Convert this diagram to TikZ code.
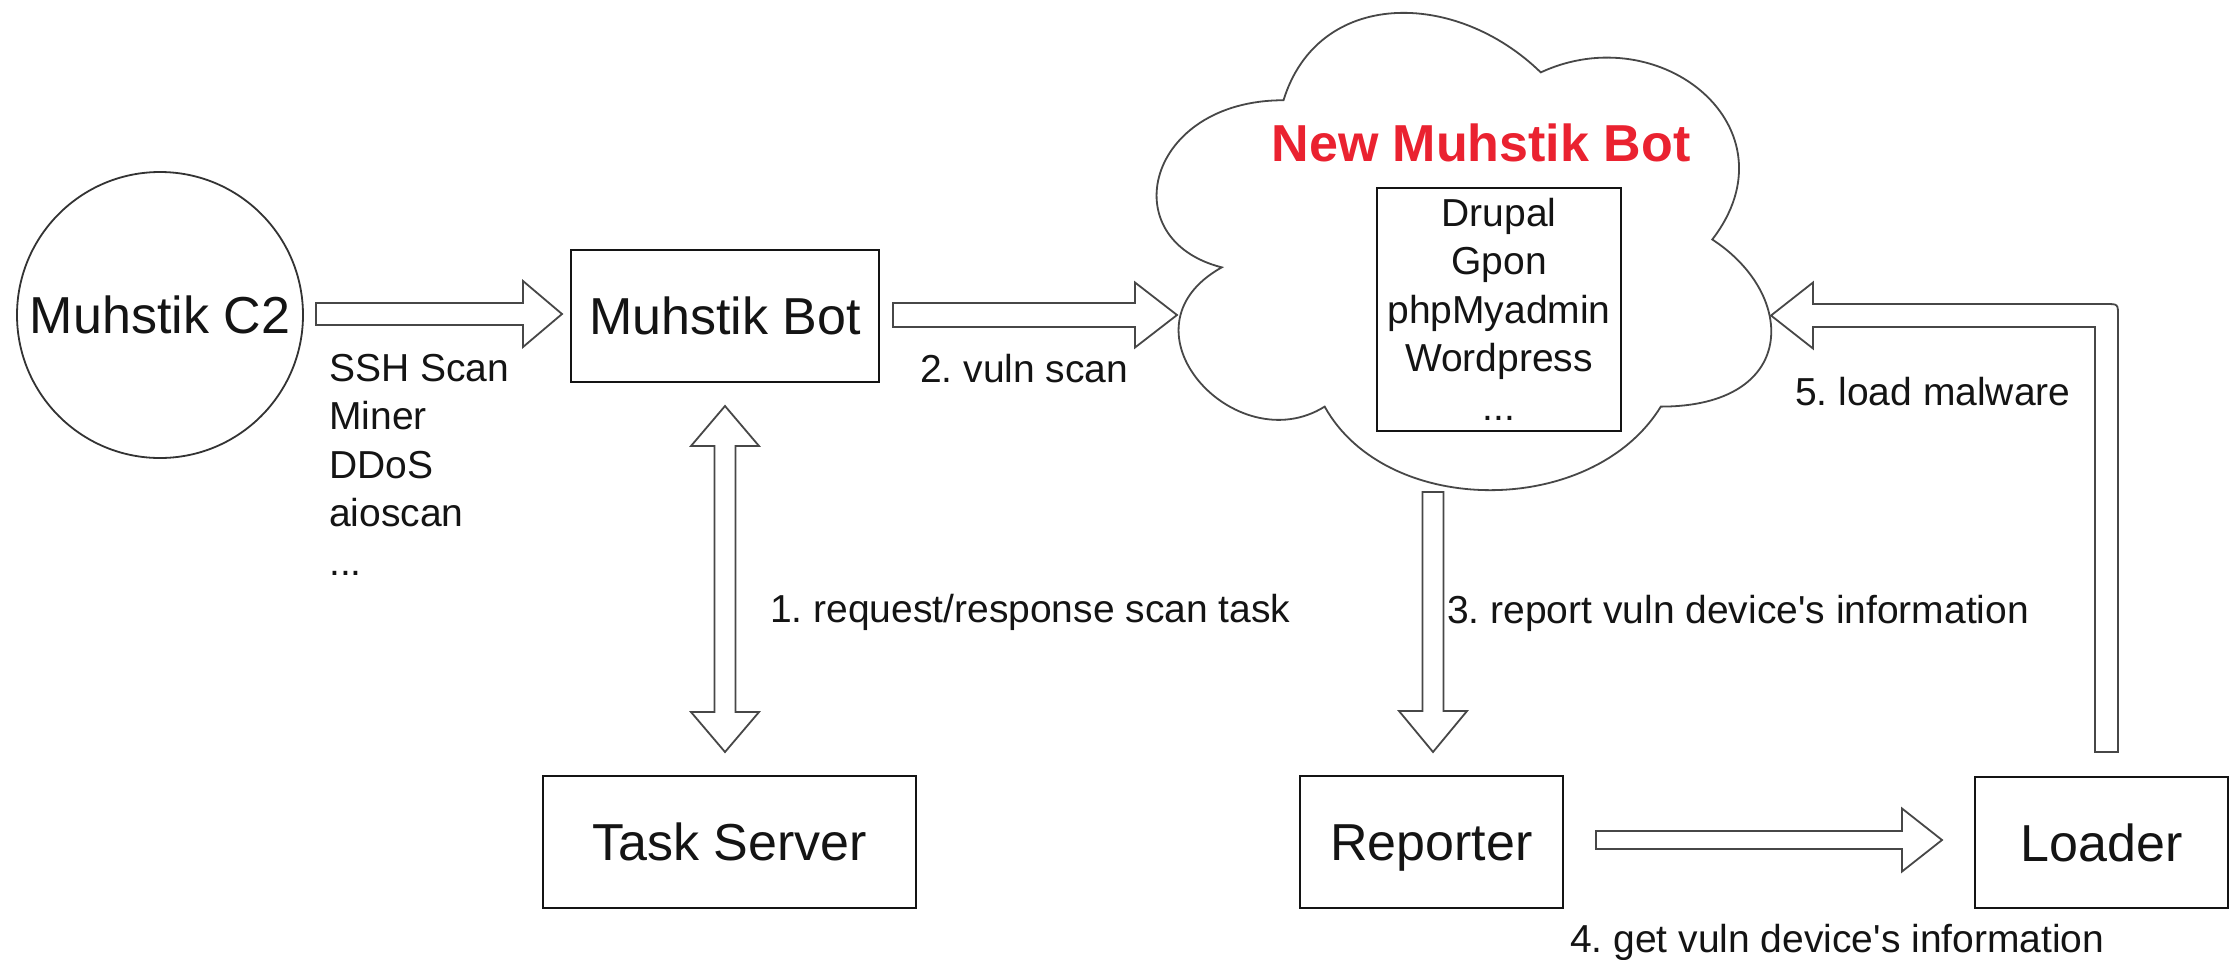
\documentclass[tikz,border=0pt]{standalone}
\usepackage{fontspec}
\setmainfont{Liberation Sans}
\usetikzlibrary{calc}
\frenchspacing
\definecolor{botred}{RGB}{234,34,48}
\definecolor{ink}{RGB}{20,20,20}
% straight hollow block arrow: start, tip, half shaft, half head, head length
\newcommand{\flexarrow}[5]{%
  \coordinate (fxb) at ($(#2)!#5!(#1)$);
  \draw[flexline] ($(#1)!#3!90:(#2)$) -- ($(fxb)!#3!90:(#2)$) -- ($(fxb)!#4!90:(#2)$) -- (#2)
    -- ($(fxb)!#4!-90:(#2)$) -- ($(fxb)!#3!-90:(#2)$) -- ($(#1)!#3!-90:(#2)$) -- cycle;}
% double headed hollow block arrow
\newcommand{\dflexarrow}[5]{%
  \coordinate (fxa) at ($(#1)!#5!(#2)$);
  \coordinate (fxb) at ($(#2)!#5!(#1)$);
  \draw[flexline] (#1) -- ($(fxa)!#4!90:(#2)$) -- ($(fxa)!#3!90:(#2)$) -- ($(fxb)!#3!90:(#2)$)
    -- ($(fxb)!#4!90:(#2)$) -- (#2) -- ($(fxb)!#4!-90:(#2)$) -- ($(fxb)!#3!-90:(#2)$)
    -- ($(fxa)!#3!-90:(#2)$) -- ($(fxa)!#4!-90:(#2)$) -- cycle;}
\begin{document}
\begin{tikzpicture}[x=1pt,y=-1pt,
  bigfont/.style={font=\fontsize{52}{62}\selectfont\frenchspacing},
  lbl/.style={font=\fontsize{39}{48.5}\selectfont\frenchspacing, text=ink, inner sep=0pt},
  box/.style={draw=ink, line width=2pt, rectangle, bigfont, text=ink, inner sep=0pt,
              text height=37pt, text depth=0pt},
  circ/.style={draw=black!80, line width=1.8pt, circle, bigfont, text=ink, inner sep=0pt,
               minimum size=286pt, text height=37pt, text depth=0pt},
  flexline/.style={draw=black!72, line width=1.8pt, fill=white, line join=miter},
  cloudline/.style={draw=black!72, line width=1.8pt, fill=white},
  title/.style={font=\bfseries\fontsize{52}{62}\selectfont, text=botred, inner sep=0pt,
                text height=37.5pt, text depth=0pt},
  cmsbox/.style={draw=ink, line width=2pt, lbl, align=center, minimum width=244pt,
                 minimum height=243pt}]
\fill[white] (0,0) rectangle (2234,959);
\useasboundingbox (0,0) rectangle (2234,959);

% cloud
\begin{scope}[shift={(1112,-39)}, x=686pt, y=-557pt]
\draw[cloudline] (0.25,0.25) .. controls (0.05,0.25) and (0,0.5) .. (0.16,0.55)
  .. controls (0,0.66) and (0.18,0.9) .. (0.31,0.8)
  .. controls (0.4,1) and (0.7,1) .. (0.8,0.8)
  .. controls (1,0.8) and (1,0.6) .. (0.875,0.5)
  .. controls (1,0.3) and (0.8,0.1) .. (0.625,0.2)
  .. controls (0.5,0.05) and (0.3,0.05) .. (0.25,0.25) -- cycle;
\end{scope}
\coordinate (cloudW) at (1177,315);
\coordinate (cloudS) at (1433,492);
\coordinate (cloudE) at (1771,315.5);

\node[title] (ttl) at (1481,142.5) {New Muhstik Bot};
\node[cmsbox] (cms) at (1499,309) {Drupal\\Gpon\\phpMyadmin\\Wordpress\\...};

% nodes
\node[circ] (c2) at (160,315) {Muhstik C2};
\node[box, minimum width=308pt, minimum height=132pt] (bot) at (725,316) {Muhstik Bot};
\node[box, minimum width=373pt, minimum height=132pt] (task) at (729.5,842) {Task Server};
\node[box, minimum width=263pt, minimum height=132pt] (rep) at (1431.5,842) {Reporter};
\node[box, minimum width=253pt, minimum height=131pt] (loader) at (2101.5,842.5) {Loader};

% arrows
\coordinate (a1s) at ($(c2.east)+(12,-1)$);
\coordinate (a1t) at ($(bot.west)+(-8,-2)$);
\flexarrow{a1s}{a1t}{11pt}{33pt}{39pt}
\coordinate (a2s) at ($(bot.east)+(13,-1)$);
\flexarrow{a2s}{cloudW}{12pt}{32.5pt}{42pt}
\coordinate (d1) at ($(bot.south)+(0,23)$);
\coordinate (d2) at ($(d1 |- task.north)+(0,-23)$);
\dflexarrow{d1}{d2}{10.5pt}{34pt}{40pt}
\coordinate (a3t) at ($(cloudS |- rep.north)+(0,-23)$);
\flexarrow{cloudS}{a3t}{10.5pt}{34pt}{41pt}
\coordinate (a4s) at ($(rep.east)+(32,-2)$);
\coordinate (a4t) at ($(loader.west)+(-32,-2.5)$);
\flexarrow{a4s}{a4t}{9pt}{31.5pt}{40pt}
% elbow arrow from loader to cloud
\coordinate (s5) at ($(loader.north)+(5,-24)$);
\coordinate (c5) at ($(s5 |- cloudE)+(11.5,-11.5)$);
\draw[flexline] ($(s5)+(-11.5,0)$) -- ($(s5 |- cloudE)+(-11.5,11.5)$) -- ($(cloudE)+(42,11.5)$)
  -- ($(cloudE)+(42,33)$) -- (cloudE) -- ($(cloudE)+(42,-33)$) -- ($(cloudE)+(42,-11.5)$)
  -- ($(c5)+(-12,0)$) .. controls (c5) .. ($(c5)+(0,12)$) -- ($(s5)+(11.5,0)$) -- cycle;

% labels
\node[lbl, anchor=north west, align=left] (list) at (329,354) {SSH Scan\\Miner\\DDoS\\aioscan\\...};
\node[lbl, anchor=base west] (l1) at (770,622) {1. request/response scan task};
\node[lbl, anchor=base west] (l2) at (920,382) {2. vuln scan};
\node[lbl, anchor=base west] (l3) at (1447,623) {3. report vuln device\textquotesingle s information};
\node[lbl, anchor=base west] (l4) at (1570,952) {4. get vuln device\textquotesingle s information};
\node[lbl, anchor=base west] (l5) at (1795,405) {5. load malware};
\end{tikzpicture}
\end{document}
